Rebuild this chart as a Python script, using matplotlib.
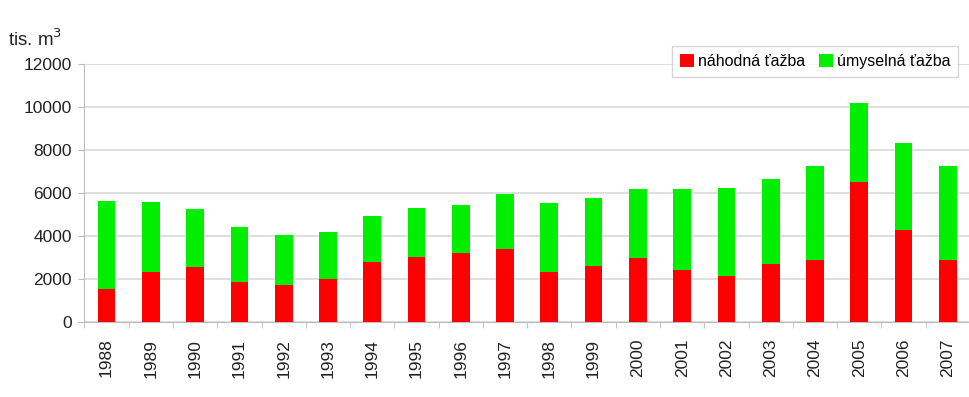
import numpy as np
import matplotlib.pyplot as plt

plt.rcParams['font.family'] = ['Liberation Sans', 'DejaVu Sans']

# Data (thousand m3)
years = [str(y) for y in range(1988, 2008)]
nahodna = [1550, 2340, 2570, 1840, 1720, 2020, 2790, 3010, 3190, 3400,
           2340, 2620, 2990, 2420, 2140, 2700, 2880, 6500, 4260, 2870]
celkom = [5630, 5580, 5260, 4400, 4050, 4170, 4910, 5320, 5430, 5950,
          5530, 5770, 6190, 6170, 6250, 6640, 7270, 10160, 8310, 7270]
umyselna = [c - n for c, n in zip(celkom, nahodna)]

fig = plt.figure(figsize=(9.7, 3.97), dpi=100)
ax = fig.add_axes([0.087, 0.189, 0.913, 0.65])

x = np.arange(len(years))
ax.bar(x, nahodna, width=0.4, color='#ff0000', label='náhodná ťažba', zorder=3)
ax.bar(x, umyselna, width=0.4, bottom=nahodna, color='#00ee00',
       label='úmyselná ťažba', zorder=3)

ax.set_xlim(-0.5, len(years) - 0.5)
ax.set_ylim(0, 12000)
ax.set_yticks(range(0, 12001, 2000))
ax.yaxis.grid(True, color='#d9d9d9', linewidth=1.2, zorder=0)

ax.set_xticks(x)
ax.set_xticklabels(years, rotation=90, fontsize=12.5, color='#222222')
ax.set_xticks(np.arange(-0.5, len(years), 1), minor=True)
ax.tick_params(axis='x', which='major', length=0, pad=12)
ax.tick_params(axis='x', which='minor', length=4, color='#bbbbbb')
ax.tick_params(axis='y', length=4, color='#bbbbbb', labelsize=12.5,
               labelcolor='#222222', pad=5)

for s in ['top', 'right']:
    ax.spines[s].set_visible(False)
for s in ['left', 'bottom']:
    ax.spines[s].set_color('#bbbbbb')

fig.text(0.008, 0.885, 'tis. m$^3$', fontsize=13.5, color='#222222')

leg = ax.legend(loc='upper right', bbox_to_anchor=(0.996, 1.1), ncol=2,
                frameon=True, fancybox=False, fontsize=11.5,
                handlelength=0.85, handleheight=0.85, handletextpad=0.25,
                columnspacing=0.9, borderpad=0.5)
leg.get_frame().set_edgecolor('#cccccc')
leg.get_frame().set_linewidth(1.0)

fig.savefig('out.png', dpi=100)
